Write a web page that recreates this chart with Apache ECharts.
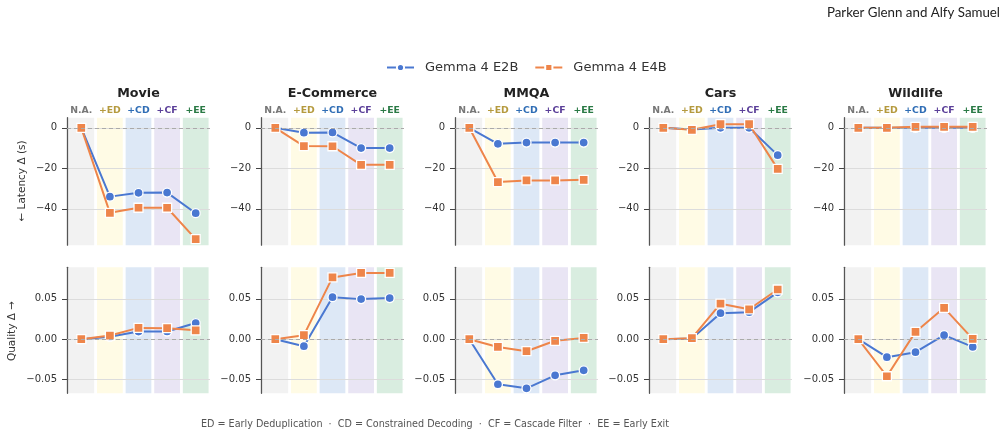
<!DOCTYPE html>
<html>
<head>
<meta charset="utf-8">
<script src="https://cdn.jsdelivr.net/npm/echarts@6/dist/echarts.min.js"></script>
<style>
html, body { margin: 0; padding: 0; background: #fff; }
#chart { width: 1007px; height: 437px; }
</style>
</head>
<body>
<div id="chart"></div>
<script>
// data
var stages = ['N.A.', '+ED', '+CD', '+CF', '+EE'];
var datasets = ['Movie', 'E-Commerce', 'MMQA', 'Cars', 'Wildlife'];
var models = ['Gemma 4 E2B', 'Gemma 4 E4B'];

// latency delta (s), one row per dataset
var latencyE2B = [
    [0, -34, -32.1, -32, -42.2],
    [0, -2.4, -2.3, -10, -10],
    [0, -7.9, -7.3, -7.3, -7.3],
    [0, -0.8, 0, 0, -13.5],
    [0, 0, 0, 0, 0]
];
var latencyE4B = [
    [0, -42, -39.5, -39.5, -55],
    [0, -9, -9.1, -18.3, -18.3],
    [0, -26.8, -26, -26, -25.7],
    [0, -1, 1.8, 1.8, -20.3],
    [0, 0, 0.5, 0.5, 0.5]
];
// quality delta
var qualityE2B = [
    [0, 0.003, 0.0094, 0.0095, 0.020],
    [0, -0.0087, 0.052, 0.0496, 0.0509],
    [0, -0.0558, -0.0608, -0.0447, -0.0385],
    [0, 0.001, 0.0322, 0.0335, 0.058],
    [0, -0.0223, -0.0161, 0.005, -0.0096]
];
var qualityE4B = [
    [0, 0.0045, 0.014, 0.0136, 0.011],
    [0, 0.005, 0.0765, 0.082, 0.082],
    [0, -0.0096, -0.0149, -0.002, 0.0016],
    [0, 0.0012, 0.044, 0.037, 0.0615],
    [0, -0.0459, 0.009, 0.0388, 0.0004]
];

var latencyTicks = [-40, -20, 0];
var qualityTicks = [-0.05, 0, 0.05];
var latencyRange = [-58, 5];
var qualityRange = [-0.067, 0.089];

// styling
var modelColors = ['#4a78d1', '#ee854a'];
var modelSymbols = ['circle', 'rect'];
var bandColors = ['#f2f2f2', '#fffbe5', '#dde8f6', '#e9e5f4', '#d9ede0'];
var stageColors = ['#777777', '#b59a3e', '#2f6db5', '#5b3f99', '#2a7a45'];
var font = 'DejaVu Sans';

var colLeft = [67, 261, 455, 649, 844];
var colWidth = 143;
var rows = [
    { top: 117.7, height: 127.5, ticks: latencyTicks, range: latencyRange, e2b: latencyE2B, e4b: latencyE4B, dec: 0 },
    { top: 267.3, height: 126, ticks: qualityTicks, range: qualityRange, e2b: qualityE2B, e4b: qualityE4B, dec: 2 }
];

function fmt(dec) {
    return function (v) {
        var s = dec ? Number(v).toFixed(dec) : String(Math.round(v));
        return s.replace('-', '\u2212');
    };
}

// shaded stage columns, one rect per category
function bandRenderer(range) {
    return function (params, api) {
        var idx = api.value(0);
        var top = api.coord([idx, range[1]]);
        var bot = api.coord([idx, range[0]]);
        var w = api.size([1, 0])[0] * 0.9;
        return {
            type: 'rect',
            shape: { x: top[0] - w / 2, y: top[1], width: w, height: bot[1] - top[1] },
            style: { fill: bandColors[idx] }
        };
    };
}

var grids = [], xAxes = [], yAxes = [], series = [], graphics = [];
var bandData = stages.map(function (s, i) { return [i, 0]; });

rows.forEach(function (row, r) {
    datasets.forEach(function (name, c) {
        var g = grids.length;
        grids.push({ left: colLeft[c], top: row.top, width: colWidth, height: row.height });
        xAxes.push({
            gridIndex: g,
            type: 'category',
            data: stages,
            position: 'top',
            boundaryGap: true,
            axisLine: { show: false },
            axisTick: { show: false },
            splitLine: { show: false },
            axisLabel: {
                show: r === 0,
                margin: 3,
                interval: 0,
                fontFamily: font,
                fontSize: 9.3,
                fontWeight: 'bold',
                color: function (v) { return stageColors[stages.indexOf(v)]; }
            }
        });
        yAxes.push({
            gridIndex: g,
            type: 'value',
            min: row.range[0],
            max: row.range[1],
            axisLine: { show: true, onZero: false, lineStyle: { color: '#555', width: 1.3 } },
            axisTick: { show: true, length: 5, customValues: row.ticks, lineStyle: { color: '#444' } },
            axisLabel: {
                customValues: row.ticks,
                formatter: fmt(row.dec),
                fontFamily: font,
                fontSize: 10,
                color: '#333',
                margin: 10
            },
            splitLine: { show: true, lineStyle: { color: '#dcdcdc', width: 1 } }
        });
        series.push({
            name: 'band',
            type: 'custom',
            xAxisIndex: g,
            yAxisIndex: g,
            z: -1,
            silent: true,
            encode: { x: 0, y: 1 },
            renderItem: bandRenderer(row.range),
            data: bandData
        });
        [row.e2b[c], row.e4b[c]].forEach(function (vals, m) {
            var s = {
                name: models[m],
                type: 'line',
                xAxisIndex: g,
                yAxisIndex: g,
                data: vals,
                symbol: modelSymbols[m],
                symbolSize: 9,
                showSymbol: true,
                lineStyle: { color: modelColors[m], width: 2 },
                itemStyle: { color: modelColors[m], borderColor: '#fff', borderWidth: 1.3 },
                z: 3 + m,
                animation: false
            };
            if (m === 0) {
                s.markLine = {
                    silent: true,
                    symbol: 'none',
                    label: { show: false },
                    lineStyle: { color: '#aaa', type: [4, 3], width: 1 },
                    data: [{ yAxis: 0 }]
                };
            }
            series.push(s);
        });
    });
});

// panel titles
datasets.forEach(function (name, c) {
    graphics.push({
        type: 'text', x: colLeft[c] + colWidth / 2, y: 93.5,
        style: { text: name, fill: '#222', font: 'bold 12.7px ' + font, align: 'center', verticalAlign: 'middle' }
    });
});
// axis names
graphics.push({
    type: 'text', x: 22, y: 181, rotation: Math.PI / 2,
    style: { text: '\u2190 Latency \u0394 (s)', fill: '#333', font: '10.5px ' + font, align: 'center', verticalAlign: 'middle' }
});
graphics.push({
    type: 'text', x: 12, y: 331, rotation: Math.PI / 2,
    style: { text: 'Quality \u0394 \u2192', fill: '#333', font: '10.5px ' + font, align: 'center', verticalAlign: 'middle' }
});
// author line
graphics.push({
    type: 'text', x: 1000, y: 13,
    style: { text: 'Parker Glenn and Alfy Samuel', fill: '#222', font: '13.3px Lato', align: 'right', verticalAlign: 'middle' }
});
// footer
graphics.push({
    type: 'text', x: 435, y: 424,
    style: {
        text: 'ED = Early Deduplication  \u00b7  CD = Constrained Decoding  \u00b7  CF = Cascade Filter  \u00b7  EE = Early Exit',
        fill: '#555', font: "10.7px 'DejaVu Sans Condensed', 'DejaVu Sans'", align: 'center', verticalAlign: 'middle'
    }
});

var myChart = echarts.init(document.getElementById('chart'), null, { renderer: 'canvas' });

var option = {
    backgroundColor: '#fff',
    animation: false,
    legend: {
        data: models,
        top: 56,
        left: 381,
        itemWidth: 27,
        itemHeight: 9,
        itemGap: 16,
        textStyle: { fontFamily: font, fontSize: 13, color: '#333', padding: [0, 0, 0, 6] }
    },
    grid: grids,
    xAxis: xAxes,
    yAxis: yAxes,
    series: series,
    graphic: graphics
};
myChart.setOption(option);
</script>
</body>
</html>
